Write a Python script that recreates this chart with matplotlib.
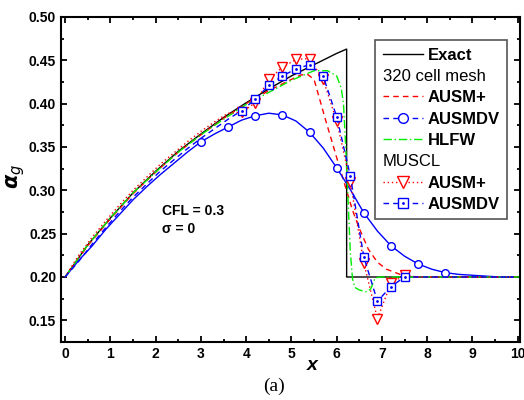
import matplotlib
matplotlib.use('Agg')
import matplotlib.pyplot as plt
from matplotlib.lines import Line2D
from matplotlib.ticker import MultipleLocator, FormatStrFormatter

plt.rcParams['font.family'] = ['Liberation Sans', 'DejaVu Sans']

# exact solution
x_exact = [0, 0.5, 1, 1.5, 2, 2.5, 3, 3.5, 4, 4.5, 5, 5.5, 6, 6.22, 6.22, 10.1]
a_exact = [0.200, 0.237, 0.268, 0.297, 0.322, 0.345, 0.365, 0.384, 0.401,
           0.417, 0.432, 0.445, 0.458, 0.463, 0.200, 0.200]

# 320 cell mesh, AUSM+
x_ausm = [0, 0.5, 1, 1.5, 2, 2.5, 3, 3.5, 4, 4.5, 5, 5.2, 5.35, 5.5, 5.75,
          6.05, 6.2, 6.35, 6.5, 6.7, 6.9, 7.1, 7.4, 7.7, 10.1]
a_ausm = [0.200, 0.236, 0.267, 0.296, 0.321, 0.344, 0.364, 0.383, 0.400,
          0.415, 0.428, 0.433, 0.434, 0.428, 0.382, 0.329, 0.303, 0.277,
          0.256, 0.232, 0.217, 0.209, 0.203, 0.200, 0.200]

# 320 cell mesh, AUSMDV
x_dv = [0, 0.3, 0.6, 0.9, 1.2, 1.5, 1.8, 2.1, 2.4, 2.7, 3.0, 3.3, 3.6, 3.9,
        4.2, 4.5, 4.8, 5.1, 5.4, 5.7, 6.0, 6.3, 6.6, 6.9, 7.2, 7.5, 7.8, 8.1,
        8.4, 8.7, 9.0, 9.3, 9.6, 9.9]
a_dv = [0.200, 0.219, 0.236, 0.255, 0.272, 0.289, 0.304, 0.318, 0.331, 0.344,
        0.356, 0.365, 0.373, 0.381, 0.386, 0.389, 0.387, 0.380, 0.367, 0.349,
        0.326, 0.301, 0.274, 0.253, 0.236, 0.224, 0.215, 0.209, 0.205, 0.203,
        0.202, 0.201, 0.200, 0.200]

# 320 cell mesh, HLFW
x_hlfw = [0, 0.5, 1, 1.5, 2, 2.5, 3, 3.5, 4, 4.5, 5, 5.5, 5.8, 6.0, 6.1, 6.15,
          6.2, 6.25, 6.3, 6.35, 6.4, 6.5, 6.65, 6.75, 6.85, 6.95, 10.1]
a_hlfw = [0.200, 0.237, 0.268, 0.297, 0.321, 0.344, 0.364, 0.382, 0.399,
          0.413, 0.427, 0.438, 0.438, 0.432, 0.418, 0.400, 0.350, 0.290,
          0.230, 0.198, 0.188, 0.185, 0.183, 0.186, 0.199, 0.200, 0.200]

# MUSCL, same x grid for both schemes
x_muscl = [0, 0.3, 0.6, 0.9, 1.2, 1.5, 1.8, 2.1, 2.4, 2.7, 3.0, 3.3, 3.6,
           3.9, 4.2, 4.5, 4.8, 5.1, 5.4, 5.7, 6.0, 6.3, 6.6, 6.9, 7.2, 7.5,
           7.8, 8.1, 8.4, 8.7, 9.0, 9.3, 9.6, 9.9]
a_muscl_ausm = [0.200, 0.225, 0.246, 0.265, 0.283, 0.300, 0.315, 0.330, 0.343,
                0.356, 0.368, 0.379, 0.389, 0.390, 0.401, 0.428, 0.442, 0.451,
                0.452, 0.428, 0.380, 0.310, 0.216, 0.152, 0.193, 0.202, 0.200,
                0.200, 0.200, 0.200, 0.200, 0.200, 0.200, 0.200]
a_muscl_dv = [0.200, 0.218, 0.238, 0.257, 0.275, 0.292, 0.307, 0.322, 0.335,
              0.348, 0.360, 0.371, 0.382, 0.392, 0.405, 0.421, 0.432, 0.440,
              0.445, 0.432, 0.385, 0.317, 0.223, 0.172, 0.189, 0.200, 0.200,
              0.200, 0.200, 0.200, 0.200, 0.200, 0.200, 0.200]

# markers only show clearly on these points in the original
dv_marks = list(range(10, 30, 2))
muscl_marks = list(range(13, 26))

green = '#00ee00'

fig = plt.figure(figsize=(5.24, 4.0), dpi=100)
ax = fig.add_axes([0.1164, 0.145, 0.876, 0.8125])

ax.plot(x_exact, a_exact, '-', color='black', lw=1.0)
ax.plot(x_ausm, a_ausm, color='red', lw=1.0, ls=(0, (4, 3)))
ax.plot(x_dv, a_dv, '-', color='blue', lw=1.0, marker='o', ms=5.5,
        mfc='white', mec='blue', mew=1.0, markevery=dv_marks)
ax.plot(x_hlfw, a_hlfw, color=green, lw=1.0, ls=(0, (6, 2, 1, 2)))
ax.plot(x_muscl, a_muscl_ausm, color='red', lw=1.0, ls=(0, (1, 2)),
        marker='v', ms=6.5, mfc='white', mec='red', mew=1.0,
        markevery=muscl_marks)
ax.plot(x_muscl, a_muscl_dv, color='blue', lw=1.0, ls=(0, (4, 3)),
        marker='s', ms=5.5, mfc='white', mec='blue', mew=1.0,
        markevery=muscl_marks)
ax.plot(x_muscl, a_muscl_dv, ls='none', marker='.', ms=2, color='blue',
        markevery=muscl_marks)

ax.set_xlim(-0.09, 10.05)
ax.set_ylim(0.125, 0.5)
ax.xaxis.set_major_locator(MultipleLocator(1))
ax.xaxis.set_minor_locator(MultipleLocator(0.5))
ax.yaxis.set_major_locator(MultipleLocator(0.05))
ax.yaxis.set_minor_locator(MultipleLocator(0.025))
ax.yaxis.set_major_formatter(FormatStrFormatter('%.2f'))
ax.tick_params(which='both', direction='in', top=True, right=True, width=1.3)
ax.tick_params(which='major', length=4.5, labelsize=10)
ax.tick_params(which='minor', length=2.5)
for lab in ax.get_xticklabels() + ax.get_yticklabels():
    lab.set_fontweight('bold')
for sp in ax.spines.values():
    sp.set_linewidth(1.5)

ax.set_xlabel('x', fontsize=14, fontweight='bold', style='italic')
ax.xaxis.set_label_coords(0.547, -0.045)
ax.set_ylabel(r'$\boldsymbol{\alpha}_g$', fontsize=15)
ax.yaxis.set_label_coords(-0.075, 0.51)

ax.text(2.14, 0.2715, 'CFL = 0.3', fontsize=10, fontweight='bold')
ax.text(2.14, 0.2506, 'σ = 0', fontsize=10, fontweight='bold')

fig.text(0.522, 0.022, '(a)', fontsize=14, family='Liberation Serif', ha='center')

# legend
blank = Line2D([], [], ls='none')
h_exact = Line2D([], [], color='black', lw=1.0)
h_ausm = Line2D([], [], color='red', lw=1.0, ls=(0, (4, 3)))
h_dv = Line2D([], [], color='blue', lw=1.0, ls=(0, (4, 3)), marker='o', ms=7,
              mfc='white', mec='blue')
h_hlfw = Line2D([], [], color=green, lw=1.0, ls=(0, (6, 2, 1, 2)))
h_mausm = Line2D([], [], color='red', lw=1.0, ls=(0, (1, 2)), marker='v',
                 ms=8, mfc='white', mec='red')
h_mdv = Line2D([], [], color='blue', lw=1.0, ls=(0, (4, 3)), marker='s', ms=7,
               mfc='white', mec='blue')
h_dot = Line2D([], [], ls='none', marker='.', ms=2, color='blue')

headers = ['320 cell mesh', 'MUSCL']
handles = [h_exact, blank, h_ausm, h_dv, h_hlfw, blank, h_mausm, (h_mdv, h_dot)]
labels = ['Exact', '320 cell mesh', 'AUSM+', 'AUSMDV', 'HLFW', 'MUSCL',
          'AUSM+', 'AUSMDV']
leg = ax.legend(handles, labels, loc='upper right',
                bbox_to_anchor=(0.972, 0.929), borderaxespad=0,
                prop={'size': 12, 'weight': 'bold'}, handlelength=2.4,
                handletextpad=0.3, labelspacing=0.38, borderpad=0.45,
                fancybox=False, framealpha=1, edgecolor='#555555')
leg.get_frame().set_linewidth(1.2)
for t in leg.get_texts():
    if t.get_text() in headers:
        t.set_fontweight('normal')
for col in leg._legend_handle_box.get_children():
    for row in col.get_children():
        da, ta = row.get_children()
        if ta.get_text() in headers:
            da.width = 0
            row.sep = 0

fig.savefig('out.png', dpi=100)
